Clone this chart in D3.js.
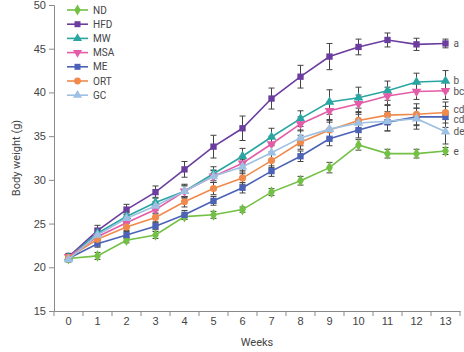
<!DOCTYPE html>
<html>
<head>
<meta charset="utf-8">
<script src="https://cdn.jsdelivr.net/npm/d3@7"></script>
<style>
    body { margin: 0; background: #fff; }
    svg { display: block; font-family: Roboto, "Noto Sans", sans-serif; }
    .axis path, .axis line { stroke: #8a8a8a; }
    .axis text { fill: #444; font-size: 11px; }
</style>
</head>
<body>
<div id="chart"></div>
<script>
(function () {
    "use strict";

    const weeks = [0, 1, 2, 3, 4, 5, 6, 7, 8, 9, 10, 11, 12, 13];
    const yTicks = [15, 20, 25, 30, 35, 40, 45, 50];

    const groups = ["ND", "HFD", "MW", "MSA", "ME", "ORT", "GC"];
    const letters = ["e", "a", "b", "bc", "cd", "cd", "de"];

    const ndMean  = [21.0, 21.3, 23.1, 23.7, 25.8, 26.0, 26.6, 28.6, 29.9, 31.4, 34.0, 33.0, 33.0, 33.3];
    const hfdMean = [21.2, 24.2, 26.6, 28.6, 31.2, 33.8, 35.9, 39.3, 41.8, 44.1, 45.2, 46.0, 45.5, 45.6];
    const mwMean  = [21.1, 23.9, 25.8, 27.4, 28.7, 30.7, 32.7, 34.9, 37.0, 38.9, 39.4, 40.2, 41.2, 41.3];
    const msaMean = [21.2, 23.5, 25.1, 26.6, 28.7, 30.4, 31.9, 34.1, 36.4, 37.9, 38.7, 39.6, 40.1, 40.2];
    const meMean  = [21.0, 22.7, 23.7, 24.7, 26.0, 27.6, 29.1, 31.0, 32.7, 34.7, 35.7, 36.6, 37.2, 37.2];
    const ortMean = [21.1, 23.2, 24.6, 25.7, 27.5, 29.0, 30.2, 32.2, 34.3, 35.7, 36.8, 37.4, 37.5, 37.7];
    const gcMean  = [20.9, 23.7, 25.6, 27.0, 28.7, 30.4, 31.5, 33.1, 34.8, 35.8, 36.5, 36.7, 37.0, 35.5];

    const ndErr  = [0.3, 0.4, 0.3, 0.4, 0.3, 0.4, 0.3, 0.4, 0.5, 0.6, 0.6, 0.5, 0.5, 0.4];
    const hfdErr = [0.4, 0.6, 0.6, 0.7, 0.9, 1.3, 1.4, 1.2, 1.3, 1.5, 0.9, 0.8, 0.7, 0.5];
    const mwErr  = [0.3, 0.5, 0.5, 0.6, 0.8, 0.8, 0.9, 1.0, 0.9, 1.4, 1.2, 1.1, 1.0, 1.2];
    const msaErr = [0.3, 0.4, 0.5, 0.5, 0.7, 0.7, 0.8, 0.9, 0.8, 1.0, 1.0, 1.0, 0.9, 1.0];
    const meErr  = [0.3, 0.4, 0.4, 0.4, 0.5, 0.5, 0.6, 0.6, 0.6, 0.8, 0.9, 1.0, 1.0, 1.2];
    const ortErr = [0.3, 0.4, 0.4, 0.5, 0.6, 0.7, 0.7, 0.8, 0.8, 0.9, 1.0, 1.1, 1.2, 1.2];
    const gcErr  = [0.3, 0.4, 0.5, 0.5, 0.6, 0.7, 0.8, 0.9, 0.9, 1.0, 1.0, 1.1, 1.2, 1.4];

    const means = [ndMean, hfdMean, mwMean, msaMean, meMean, ortMean, gcMean];
    const errors = [ndErr, hfdErr, mwErr, msaErr, meErr, ortErr, gcErr];

    const colors = ["#72c044", "#6a3d9e", "#2aa6a2", "#e45ca8", "#4b62b6", "#f08a4c", "#9ec0e2"];
    const symbols = [d3.symbolDiamond, d3.symbolSquare, d3.symbolTriangle, d3.symbolTriangle,
        d3.symbolSquare, d3.symbolCircle, d3.symbolTriangle];
    const rotations = [0, 0, 0, 180, 0, 0, 0];

    const width = 464;
    const height = 352;
    const margin = { top: 5, right: 4, bottom: 41, left: 54 };

    const svg = d3.select("#chart").append("svg")
        .attr("width", width)
        .attr("height", height);

    const plotWidth = width - margin.left - margin.right;
    const plotHeight = height - margin.top - margin.bottom;

    const canvas = svg.append("g")
        .attr("transform", `translate(${margin.left},${margin.top})`);

    const xScale = d3.scaleBand()
        .domain(weeks)
        .range([0, plotWidth]);

    const yScale = d3.scaleLinear()
        .domain([15, 50])
        .range([plotHeight, 0]);

    const xCenter = w => xScale(w) + xScale.bandwidth() / 2;

    // y axis
    canvas.append("g")
        .attr("class", "axis")
        .call(d3.axisLeft(yScale).tickValues(yTicks).tickSizeOuter(0).tickSize(5).tickPadding(3));

    // x axis, ticks sit on band edges
    const xAxis = canvas.append("g")
        .attr("class", "axis")
        .attr("transform", `translate(0,${plotHeight})`)
        .call(d3.axisBottom(xScale).tickSizeOuter(0).tickSize(0).tickPadding(6));

    xAxis.selectAll(".edge")
        .data(d3.range(weeks.length + 1))
        .join("line")
        .attr("class", "edge")
        .attr("x1", i => i * xScale.step())
        .attr("x2", i => i * xScale.step())
        .attr("y1", 0)
        .attr("y2", 5);

    svg.append("text")
        .attr("x", margin.left + plotWidth / 2)
        .attr("y", 346)
        .attr("text-anchor", "middle")
        .attr("fill", "#444")
        .attr("font-size", 11)
        .text("Weeks");

    svg.append("text")
        .attr("transform", `translate(20,${margin.top + plotHeight / 2}) rotate(-90)`)
        .attr("text-anchor", "middle")
        .attr("fill", "#444")
        .attr("font-size", 11)
        .text("Body weight (g)");

    const line = d3.line()
        .x((d, i) => xCenter(weeks[i]))
        .y(d => yScale(d));

    // error bars first, lines and markers on top
    const errLayer = canvas.append("g");
    const lineLayer = canvas.append("g");

    groups.forEach((name, k) => {
        const rows = weeks.map((w, i) => ({ w, m: means[k][i], e: errors[k][i] }));

        const bars = errLayer.append("g")
            .attr("stroke", "#444")
            .attr("stroke-width", 1);

        for (const r of rows) {
            const x = xCenter(r.w);
            const y0 = yScale(r.m - r.e);
            const y1 = yScale(r.m + r.e);
            bars.append("path")
                .attr("d", `M${x},${y0}V${y1}M${x - 3},${y0}H${x + 3}M${x - 3},${y1}H${x + 3}`);
        }

        lineLayer.append("path")
            .attr("d", line(means[k]))
            .attr("fill", "none")
            .attr("stroke", colors[k])
            .attr("stroke-width", 1.6);

        lineLayer.selectAll(null)
            .data(rows)
            .join("path")
            .attr("d", d3.symbol(symbols[k], 40))
            .attr("transform", d => `translate(${xCenter(d.w)},${yScale(d.m)}) rotate(${rotations[k]})`)
            .attr("fill", colors[k]);
    });

    // significance letters at the last week, pushed apart so they don't collide
    const last = weeks.length - 1;
    const gap = 10.5;
    const tags = groups.map((name, k) => ({ text: letters[k], y: yScale(means[k][last]) }))
        .sort((a, b) => a.y - b.y);

    for (let i = 1; i < tags.length; i++) {
        if (tags[i].y - tags[i - 1].y < gap) {
            const mid = (tags[i].y + tags[i - 1].y) / 2;
            tags[i - 1].y = mid - gap / 2;
            tags[i].y = mid + gap / 2;
        }
    }

    canvas.selectAll(".tag")
        .data(tags)
        .join("text")
        .attr("class", "tag")
        .attr("x", xCenter(weeks[last]) + 8)
        .attr("y", d => d.y)
        .attr("dy", "0.35em")
        .attr("fill", "#555")
        .attr("font-size", 10)
        .text(d => d.text);

    // legend
    const legend = svg.append("g")
        .attr("transform", "translate(67,10)");

    groups.forEach((name, k) => {
        const row = legend.append("g")
            .attr("transform", `translate(0,${k * 14.2})`);

        row.append("line")
            .attr("x1", 0)
            .attr("x2", 21)
            .attr("stroke", colors[k])
            .attr("stroke-width", 1.6);

        row.append("path")
            .attr("d", d3.symbol(symbols[k], 36))
            .attr("transform", `translate(10.5,0) rotate(${rotations[k]})`)
            .attr("fill", colors[k]);

        row.append("text")
            .attr("x", 26)
            .attr("dy", "0.35em")
            .attr("fill", "#444")
            .attr("font-size", 10)
            .text(name);
    });
}());
</script>
</body>
</html>
